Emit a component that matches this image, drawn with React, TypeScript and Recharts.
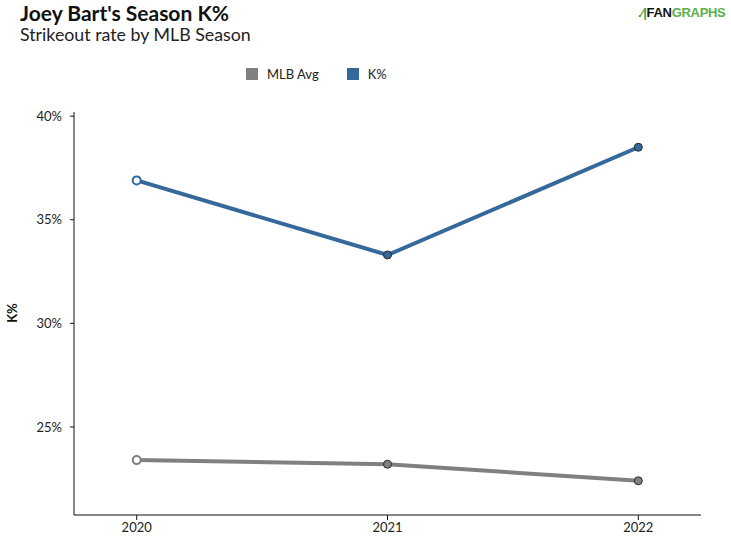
import { LineChart, Line, XAxis, YAxis } from 'recharts';

// values
const seasons = [2020, 2021, 2022];
const mlbAvg = [23.4, 23.2, 22.4];
const kPct = [36.9, 33.3, 38.5];
const yTicks = [25, 30, 35, 40];

const series = [
  { key: 'mlb', name: 'MLB Avg', color: '#808080' },
  { key: 'k', name: 'K%', color: '#35689b' },
];

const data = seasons.map((season, i) => ({ season, mlb: mlbAvg[i], k: kPct[i] }));

const FONT = 'Lato, "Open Sans", sans-serif';

// first season gets a hollow marker, the rest are filled
const makeDot = (color: string) => (props: any) => {
  const { cx, cy, index } = props;
  const first = index === 0;
  return (
    <circle
      key={`dot-${index}`}
      cx={cx}
      cy={cy}
      r={4}
      fill={first ? '#ffffff' : color}
      stroke={first ? color : '#2b2b2b'}
      strokeWidth={first ? 2 : 1}
    />
  );
};

export default function App() {
  return (
    <div
      style={{
        position: 'absolute',
        left: 0,
        top: 0,
        width: 731,
        height: 541,
        background: '#ffffff',
        fontFamily: FONT,
        color: '#222',
      }}
    >
      {/* Title block */}
      <div style={{ position: 'absolute', left: 20, top: 0, fontSize: 21, fontWeight: 700, color: '#111' }}>
        Joey Bart's Season K%
      </div>
      <div style={{ position: 'absolute', left: 20, top: 23, fontSize: 17.8, color: '#222' }}>
        Strikeout rate by MLB Season
      </div>

      {/* Logo */}
      <div
        style={{
          position: 'absolute',
          left: 638,
          top: 5,
          fontSize: 13,
          fontWeight: 700,
          letterSpacing: -0.3,
          fontFamily: '"Liberation Sans", Arial, sans-serif',
        }}
      >
        <span style={{ color: '#4aa33a' }}>.⁄|</span>
        <span style={{ color: '#111' }}>FAN</span>
        <span style={{ color: '#5cb04a' }}>GRAPHS</span>
      </div>

      {/* Legend */}
      <div style={{ position: 'absolute', left: 246, top: 66, display: 'flex', alignItems: 'center', fontSize: 13 }}>
        {series.map((s) => (
          <div key={s.key} style={{ display: 'flex', alignItems: 'center', marginRight: 28 }}>
            <div style={{ width: 12, height: 12, background: s.color, marginRight: 9 }} />
            <span style={{ color: '#222' }}>{s.name}</span>
          </div>
        ))}
      </div>

      {/* Y axis title */}
      <div
        style={{
          position: 'absolute',
          left: 12,
          top: 313,
          transform: 'translate(-50%, -50%) rotate(-90deg)',
          fontSize: 13,
          fontWeight: 700,
          color: '#111',
        }}
      >
        K%
      </div>

      <div style={{ position: 'absolute', left: 0, top: 0 }}>
        <LineChart width={731} height={541} data={data} margin={{ top: 112, right: 30, bottom: 0, left: 30 }}>
          <XAxis
            dataKey="season"
            type="number"
            domain={[2019.75, 2022.25]}
            ticks={seasons}
            allowDecimals={false}
            height={26}
            tickSize={5}
            tickMargin={3}
            stroke="#111"
            tick={{ fill: '#222', fontSize: 13, fontFamily: FONT }}
          />
          <YAxis
            type="number"
            domain={[20.75, 40.2]}
            ticks={yTicks}
            width={44}
            tickSize={4}
            tickMargin={8}
            stroke="#111"
            tickFormatter={(v: number) => `${v}%`}
            tick={{ fill: '#222', fontSize: 13, fontFamily: FONT }}
          />
          {series.map((s) => (
            <Line
              key={s.key}
              dataKey={s.key}
              name={s.name}
              type="linear"
              stroke={s.color}
              strokeWidth={4}
              dot={makeDot(s.color)}
              activeDot={false}
              isAnimationActive={false}
            />
          ))}
        </LineChart>
      </div>
    </div>
  );
}
